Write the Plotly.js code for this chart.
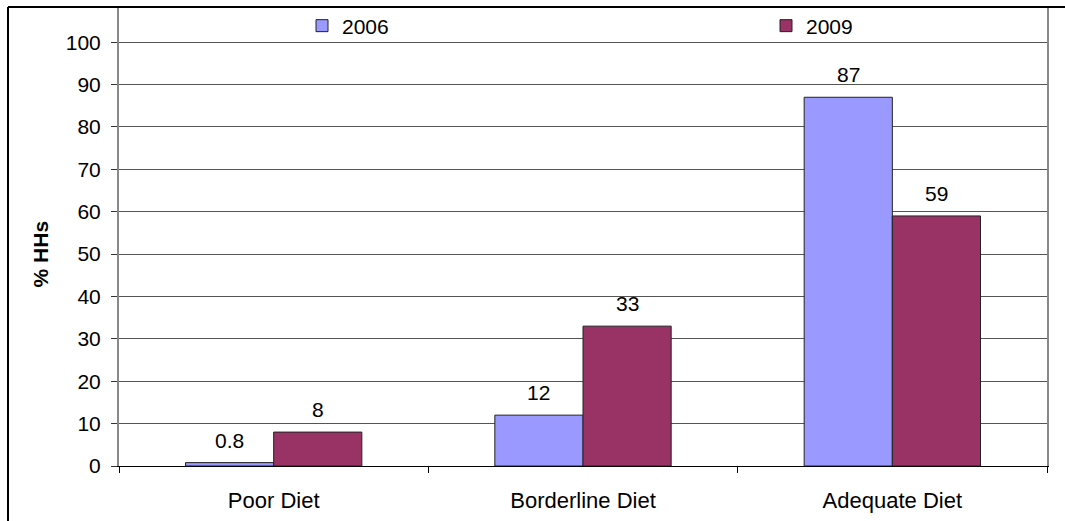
<!DOCTYPE html>
<html>
<head>
<meta charset="utf-8">
<script src="https://cdn.plot.ly/plotly-3.0.1.min.js"></script>
<style>
  html, body { margin: 0; padding: 0; background: #fff; }
  #chart { width: 1065px; height: 521px; }
</style>
</head>
<body>
<div id="chart"></div>
<script>
const categories = ["Poor Diet", "Borderline Diet", "Adequate Diet"];
const values2006 = [0.8, 12, 87];
const values2009 = [8, 33, 59];
const labels2006 = ["0.8", "12", "87"];
const labels2009 = ["8", "33", "59"];
const seriesNames = ["2006", "2009"];
const yTitle = "% HHs";

const W = 1065, H = 521;
const M = { l: 119, r: 18, t: 6, b: 55 };
const plotW = W - M.l - M.r;
const plotH = H - M.t - M.b;
const bargap = 0.43;
const catW = plotW / categories.length;
const barW = catW * (1 - bargap) / 2;
const FONT = "Liberation Sans, Arial, sans-serif";
const FS = 21;

const traces = [
  { type: "bar", name: seriesNames[0], x: categories, y: values2006, legend: "legend",
    marker: { color: "#9999FF", line: { color: "#222222", width: 1 } }, hoverinfo: "none" },
  { type: "bar", name: seriesNames[1], x: categories, y: values2009, legend: "legend2",
    marker: { color: "#993366", line: { color: "#222222", width: 1 } }, hoverinfo: "none" }
];

const annotations = [];
categories.forEach((c, i) => {
  annotations.push({ x: c, y: values2006[i], xref: "x", yref: "y", text: labels2006[i],
    showarrow: false, xshift: -barW / 2, yanchor: "bottom", yshift: 9,
    font: { family: FONT, size: FS, color: "#000" } });
  annotations.push({ x: c, y: values2009[i], xref: "x", yref: "y", text: labels2009[i],
    showarrow: false, xshift: barW / 2, yanchor: "bottom", yshift: 9,
    font: { family: FONT, size: FS, color: "#000" } });
});
annotations.push({ x: (40 - M.l) / plotW, y: (M.t + plotH - 254) / plotH, xref: "paper", yref: "paper",
  text: "<b>" + yTitle + "</b>", textangle: -90, showarrow: false,
  xanchor: "center", yanchor: "middle", font: { family: FONT, size: FS, color: "#000" } });

const legendBase = {
  orientation: "h", xanchor: "left",
  y: (M.t + plotH - 26) / plotH, yanchor: "middle",
  bgcolor: "rgba(0,0,0,0)",
  font: { family: FONT, size: FS, color: "#000" }
};

const layout = {
  width: W, height: H,
  margin: M,
  paper_bgcolor: "#fff", plot_bgcolor: "#fff",
  font: { family: FONT, size: FS, color: "#000" },
  barmode: "group", bargap: bargap, bargroupgap: 0,
  showlegend: true,
  legend: Object.assign({}, legendBase, { x: (302 - M.l) / plotW }),
  legend2: Object.assign({}, legendBase, { x: (766 - M.l) / plotW }),
  xaxis: {
    type: "category", showline: true, linecolor: "#000", linewidth: 1,
    ticks: "outside", tickson: "boundaries", ticklen: 6, tickcolor: "#000",
    ticklabelstandoff: 15, showgrid: false, zeroline: false,
    tickfont: { family: FONT, size: 22, color: "#000" }
  },
  yaxis: {
    range: [0, 108.3], dtick: 10, tick0: 0,
    showline: true, linecolor: "#888", linewidth: 2, mirror: true,
    ticks: "outside", ticklen: 6, tickcolor: "#333",
    ticklabelstandoff: 6,
    showgrid: true, gridcolor: "#555", gridwidth: 1, zeroline: false,
    tickfont: { family: FONT, size: FS, color: "#000" }
  },
  shapes: [
    { type: "line", xref: "paper", yref: "paper", x0: (8 - M.l) / plotW, x1: (8 - M.l) / plotW,
      y0: 1, y1: -0.2, line: { color: "#000", width: 2 } },
    { type: "line", xref: "paper", yref: "paper", x0: (8 - M.l) / plotW, x1: 1.1,
      y0: 1, y1: 1, line: { color: "#000", width: 2 } }
  ],
  annotations: annotations
};

Plotly.newPlot("chart", traces, layout, { staticPlot: true, displayModeBar: false });
</script>
</body>
</html>
